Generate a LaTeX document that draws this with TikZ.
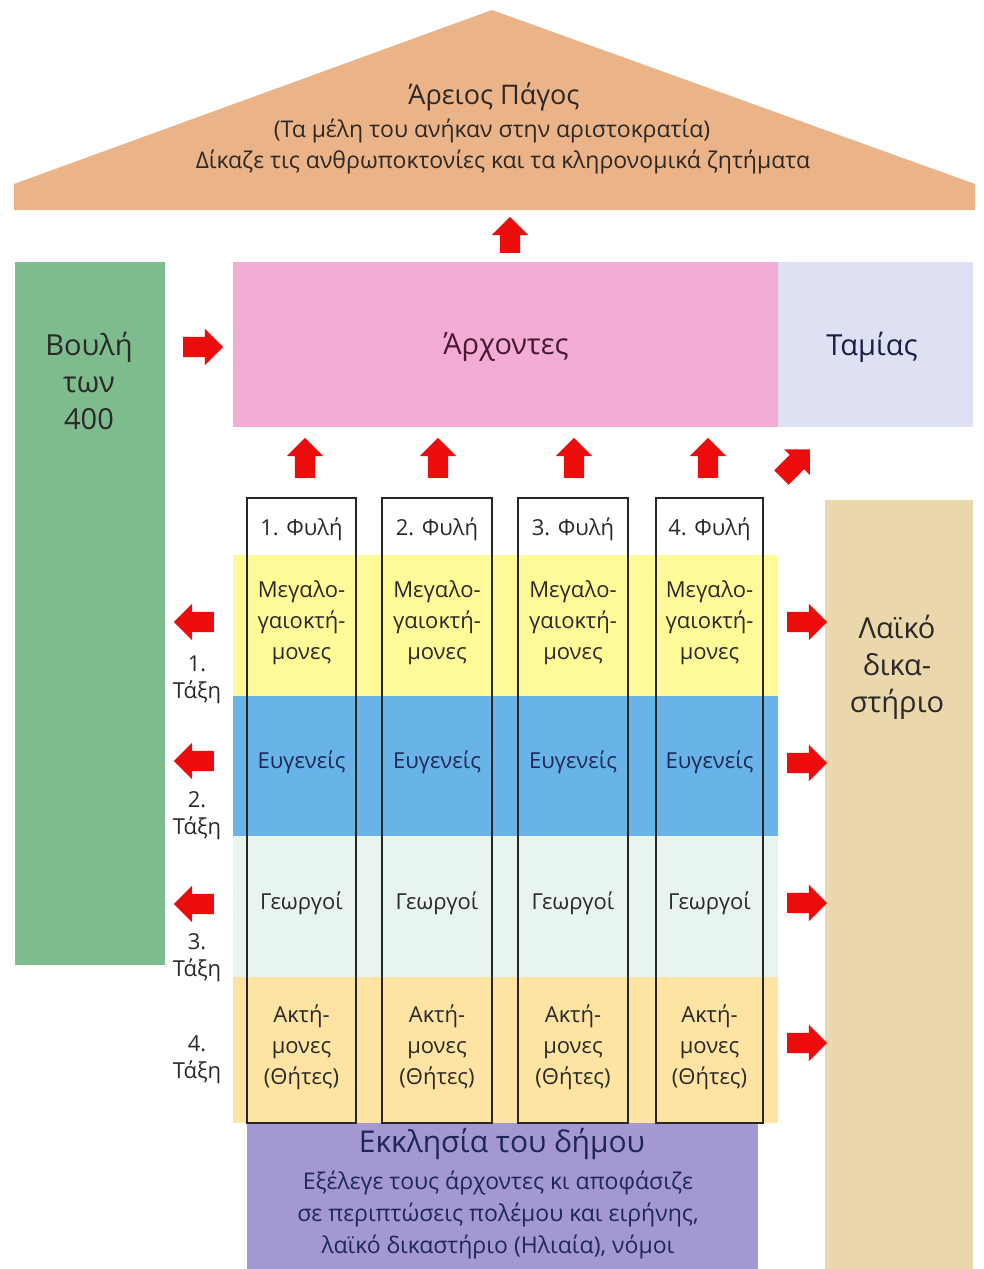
\documentclass[tikz,border=0pt]{standalone}
\usepackage{fontspec}
\setmainfont{Open Sans}
\usetikzlibrary{shapes.arrows}
\definecolor{pedC}{RGB}{234,180,136}
\definecolor{greenC}{RGB}{126,188,142}
\definecolor{pinkC}{RGB}{243,172,212}
\definecolor{tamC}{RGB}{221,225,243}
\definecolor{yelC}{RGB}{255,250,152}
\definecolor{bluC}{RGB}{104,180,232}
\definecolor{mintC}{RGB}{232,244,238}
\definecolor{peaC}{RGB}{253,228,162}
\definecolor{purC}{RGB}{164,152,210}
\definecolor{tanC}{RGB}{234,216,172}
\definecolor{arrC}{RGB}{236,12,12}
\definecolor{txtC}{RGB}{45,40,40}
\definecolor{navyC}{RGB}{30,40,85}
\begin{document}
\begin{tikzpicture}[x=1pt,y=-1pt,
  txt/.style={text=txtC, inner sep=0pt, align=center},
  big/.style={txt, font=\fontsize{29}{37}\selectfont},
  mid/.style={txt, font=\fontsize{27}{33}\selectfont},
  sml/.style={txt, font=\fontsize{22}{31}\selectfont},
  barrow/.style={single arrow, fill=arrC, draw=none, inner xsep=0pt, inner ysep=10pt,
    minimum height=40pt, single arrow head extend=8pt, single arrow head indent=0pt},
  tribe/.style={draw=black!85, line width=1.3pt}
]
\useasboundingbox (0,0) rectangle (984,1269);
\fill[white] (0,0) rectangle (984,1269);

% pediment
\fill[pedC] (14,184) -- (492,10) -- (975,184) -- (975,210) -- (14,210) -- cycle;
\node[mid] (areios) at (494,97) {Άρειος Πάγος};
\node[txt, font=\fontsize{23}{26}\selectfont] (areiosA) at (492,131) {(Τα μέλη του ανήκαν στην αριστοκρατία)};
\node[txt, font=\fontsize{23}{26}\selectfont] (areiosB) at (503,162) {Δίκαζε τις ανθρωποκτονίες και τα κληρονομικά ζητήματα};
\node[barrow, minimum height=36pt, rotate=90] (upA) at (510,240) {};

% upper boxes
\fill[greenC] (15,262) rectangle (165,965);
\node[big] (boule) at (89,381) {Βουλή\\των\\400};
\fill[pinkC] (233,262) rectangle (778,427);
\node[big, text={rgb,255:red,70;green,25;blue,55}] (archontes) at (506,347) {Άρχοντες};
\fill[tamC] (778,262) rectangle (973,427);
\node[big, text=navyC!80!black] (tamias) at (872,347) {Ταμίας};
\node[barrow] (bouleArr) at (198,347) {};

% up arrows
\node[barrow, rotate=90] (up1) at (305,463) {};
\node[barrow, rotate=90] (up2) at (438,463) {};
\node[barrow, rotate=90] (up3) at (574,463) {};
\node[barrow, rotate=90] (up4) at (708,463) {};
\node[barrow, rotate=45] (upT) at (792,467) {};

% Laiko dikastirio
\fill[tanC] (825,500) rectangle (973,1269);
\node[big] (laiko) at (897,667) {Λαϊκό\\δικα-\\στήριο};

% bands
\fill[yelC] (233,555) rectangle (778,696);
\fill[bluC] (233,696) rectangle (778,836);
\fill[mintC] (233,836) rectangle (778,977);
\fill[peaC] (233,977) rectangle (778,1123);

% ekklesia
\fill[purC] (247,1123) rectangle (758,1269);
\node[txt, text=navyC, font=\fontsize{30}{34}\selectfont] (ekkl) at (502,1144) {Εκκλησία του δήμου};
\node[txt, text=navyC, font=\fontsize{23}{32}\selectfont] (ekklB) at (498,1215)
  {Εξέλεγε τους άρχοντες κι αποφάσιζε\\σε περιπτώσεις πολέμου και ειρήνης,\\λαϊκό δικαστήριο (Ηλιαία), νόμοι};

% tribes
\foreach \i/\xa/\xb in {1/247/356, 2/382/492, 3/518/628, 4/656/763}{
  \draw[tribe] (\xa,498) rectangle (\xb,1123);
  \node[sml] (fyli\i) at ({(\xa+\xb)/2},529) {\i. Φυλή};
  \node[sml] (meg\i) at ({(\xa+\xb)/2},623) {Μεγαλο-\\γαιοκτή-\\μονες};
  \node[sml, text=navyC] (evg\i) at ({(\xa+\xb)/2},762) {Ευγενείς};
  \node[sml] (geo\i) at ({(\xa+\xb)/2},903) {Γεωργοί};
  \node[sml] (akt\i) at ({(\xa+\xb)/2},1047) {Ακτή-\\μονες\\(Θήτες)};
}

% class labels and arrows
\node[txt, font=\fontsize{22}{27}\selectfont] (taxi1) at (197,680) {1.\\Τάξη};
\node[txt, font=\fontsize{22}{27}\selectfont] (taxi2) at (197,816) {2.\\Τάξη};
\node[txt, font=\fontsize{22}{27}\selectfont] (taxi3) at (197,958) {3.\\Τάξη};
\node[txt, font=\fontsize{22}{27}\selectfont] (taxi4) at (197,1060) {4.\\Τάξη};
\node[barrow, rotate=180] (left1) at (199,622) {};
\node[barrow, rotate=180] (left2) at (199,761) {};
\node[barrow, rotate=180] (left3) at (199,904) {};
\node[barrow] (right1) at (802,622) {};
\node[barrow] (right2) at (802,763) {};
\node[barrow] (right3) at (802,903) {};
\node[barrow] (right4) at (802,1043) {};
\end{tikzpicture}
\end{document}
